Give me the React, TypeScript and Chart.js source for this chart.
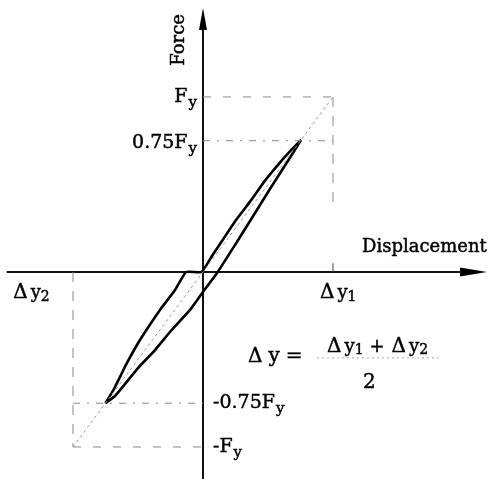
import { useEffect, useRef } from "react";
import { Chart, registerables } from "chart.js";
Chart.register(...registerables);

// normalised units: displacement / Δy1, force / Fy
const X_MIN = -1.5615;
const X_MAX = 2.2385;
const Y_MIN = -1.183;
const Y_MAX = 1.554;

const loadingX = [-0.75, -0.685, -0.631, -0.585, -0.485, -0.331, -0.215, -0.13, -0.01, 0.069, 0.146, 0.254, 0.362, 0.477, 0.592, 0.692, 0.755];
const loadingY = [-0.75, -0.669, -0.589, -0.52, -0.389, -0.217, -0.103, 0.0, 0.0, 0.091, 0.177, 0.297, 0.402, 0.522, 0.625, 0.707, 0.755];

const unloadingX = [0.755, 0.692, 0.515, 0.362, 0.246, 0.108, 0.0, -0.1, -0.254, -0.369, -0.485, -0.6, -0.677, -0.75];
const unloadingY = [0.755, 0.68, 0.474, 0.291, 0.154, -0.006, -0.114, -0.217, -0.343, -0.446, -0.537, -0.64, -0.709, -0.75];

const yieldDispPos = 1; // Δy1
const yieldDispNeg = -1; // Δy2
const yieldForce = 1; // Fy
const peakForce = 0.75; // 0.75Fy

const xAxisX = [-1.51, 2.0];
const yAxisY = [-1.19, 1.4];

const pts = (xs: number[], ys: number[]) => xs.map((x, i) => ({ x, y: ys[i] }));

type Part = { t: string; size: number; dy?: number; gap?: number };

const FONT = '"DejaVu Serif", "Liberation Serif", serif';

function drawRich(ctx: CanvasRenderingContext2D, parts: Part[], x: number, y: number, align: "left" | "right") {
  let total = 0;
  parts.forEach((p) => {
    ctx.font = `${p.size}px ${FONT}`;
    total += (p.gap || 0) + ctx.measureText(p.t).width;
  });
  let cx = align === "right" ? x - total : x;
  ctx.textAlign = "left";
  ctx.textBaseline = "alphabetic";
  parts.forEach((p) => {
    ctx.font = `${p.size}px ${FONT}`;
    cx += p.gap || 0;
    ctx.fillText(p.t, cx, y + (p.dy || 0));
    ctx.strokeText(p.t, cx, y + (p.dy || 0));
    cx += ctx.measureText(p.t).width;
  });
}

const labels: { x: number; y: number; align: "left" | "right"; parts: Part[] }[] = [
  { x: -0.046, y: 0.971, align: "right", parts: [{ t: "F", size: 19 }, { t: "y", size: 15, dy: 5, gap: 1 }] },
  { x: -0.046, y: 0.709, align: "right", parts: [{ t: "0.75F", size: 19 }, { t: "y", size: 15, dy: 5, gap: 1 }] },
  { x: 1.223, y: 0.114, align: "left", parts: [{ t: "Displacement", size: 18 }] },
  { x: -1.46, y: -0.149, align: "left", parts: [{ t: "Δ", size: 20 }, { t: "y", size: 18, gap: 3 }, { t: "2", size: 14, dy: 3 }] },
  { x: 0.9, y: -0.149, align: "left", parts: [{ t: "Δ", size: 20 }, { t: "y", size: 18, gap: 3 }, { t: "1", size: 14, dy: 3 }] },
  { x: 0.346, y: -0.514, align: "left", parts: [{ t: "Δ", size: 20 }, { t: "y", size: 20, gap: 6 }, { t: "=", size: 20, gap: 6 }] },
  {
    x: 0.954,
    y: -0.457,
    align: "left",
    parts: [
      { t: "Δ", size: 20 },
      { t: "y", size: 18, gap: 3 },
      { t: "1", size: 14, dy: 2 },
      { t: "+", size: 18, gap: 6 },
      { t: "Δ", size: 20, gap: 7 },
      { t: "y", size: 18, gap: 3 },
      { t: "2", size: 14, dy: 2 },
    ],
  },
  { x: 1.231, y: -0.663, align: "left", parts: [{ t: "2", size: 20 }] },
  { x: 0.077, y: -0.777, align: "left", parts: [{ t: "-0.75F", size: 19 }, { t: "y", size: 15, dy: 5, gap: 1 }] },
  { x: 0.077, y: -1.029, align: "left", parts: [{ t: "-F", size: 19 }, { t: "y", size: 15, dy: 5, gap: 1 }] },
];

const overlayPlugin = {
  id: "overlay",
  afterDatasetsDraw(chart: any) {
    const { ctx, scales } = chart;
    const sx = (v: number) => scales.x.getPixelForValue(v);
    const sy = (v: number) => scales.y.getPixelForValue(v);
    ctx.save();
    ctx.fillStyle = "#000";
    ctx.strokeStyle = "#000";
    ctx.lineWidth = 0.45;
    ctx.setLineDash([]);
    // arrow heads
    const ox = sx(0);
    ctx.beginPath();
    ctx.moveTo(ox, sy(1.509));
    ctx.lineTo(ox - 4, sy(1.383));
    ctx.lineTo(ox + 4, sy(1.383));
    ctx.closePath();
    ctx.fill();
    const oy = sy(0);
    ctx.beginPath();
    ctx.moveTo(sx(2.185), oy);
    ctx.lineTo(sx(1.977), oy - 4.5);
    ctx.lineTo(sx(1.977), oy + 4.5);
    ctx.closePath();
    ctx.fill();
    // Force label (rotated)
    ctx.save();
    ctx.translate(sx(-0.192) + 6, sy(1.326));
    ctx.rotate(-Math.PI / 2);
    ctx.font = `18px ${FONT}`;
    ctx.textAlign = "center";
    ctx.textBaseline = "alphabetic";
    ctx.fillText("Force", 0, 0);
    ctx.strokeText("Force", 0, 0);
    ctx.restore();
    labels.forEach((l) => drawRich(ctx, l.parts, sx(l.x), sy(l.y), l.align));
    ctx.restore();
  },
};

const line = (data: { x: number; y: number }[], color: string, width: number, dash: number[] = [], extra: any = {}) => ({
  data,
  showLine: true,
  borderColor: color,
  backgroundColor: color,
  borderWidth: width,
  borderDash: dash,
  pointRadius: 0,
  fill: false,
  ...extra,
});

export default function App() {
  const ref = useRef<HTMLCanvasElement>(null);
  useEffect(() => {
    if (!ref.current) return;
    const guide = "#888";
    const chart = new Chart(ref.current, {
      type: "scatter",
      data: {
        datasets: [
          // diagonal reference line
          line([{ x: yieldDispNeg, y: -yieldForce }, { x: yieldDispPos, y: yieldForce }], "#999", 1, [3, 3]),
          // Fy / Δy1 guides
          line([{ x: 0, y: yieldForce }, { x: yieldDispPos, y: yieldForce }], guide, 1, [8, 12]),
          line([{ x: yieldDispPos, y: yieldForce }, { x: yieldDispPos, y: 0.38 }], guide, 1, [10, 9]),
          line([{ x: yieldDispPos, y: 0 }, { x: yieldDispPos, y: 0.05 }], "#444", 1),
          line([{ x: 0, y: peakForce }, { x: yieldDispPos, y: peakForce }], guide, 1, [7, 7, 2, 7]),
          // negative side guides
          line([{ x: yieldDispNeg, y: -peakForce }, { x: 0, y: -peakForce }], guide, 1, [7, 7, 2, 7]),
          line([{ x: yieldDispNeg, y: -yieldForce }, { x: 0, y: -yieldForce }], guide, 1, [8, 12]),
          line([{ x: yieldDispNeg, y: 0 }, { x: yieldDispNeg, y: -yieldForce }], guide, 1, [10, 9]),
          // fraction bar
          line([{ x: 0.877, y: -0.491 }, { x: 1.838, y: -0.491 }], "#aaa", 1, [2, 3]),
          // hysteresis loop
          line(pts(loadingX, loadingY), "#000", 2.6, [], { tension: 0.12, borderJoinStyle: "round" }),
          line(pts(unloadingX, unloadingY), "#000", 2.6, [], { tension: 0.12, borderJoinStyle: "round" }),
          // axes
          line(pts(xAxisX, [0, 0]), "#111", 2),
          line(pts([0, 0], yAxisY), "#111", 2),
        ],
      },
      options: {
        responsive: false,
        animation: false,
        layout: { padding: 0 },
        plugins: { legend: { display: false }, tooltip: { enabled: false }, title: { display: false } },
        scales: {
          x: { type: "linear", min: X_MIN, max: X_MAX, display: false },
          y: { type: "linear", min: Y_MIN, max: Y_MAX, display: false },
        },
      },
      plugins: [overlayPlugin],
    });
    return () => chart.destroy();
  }, []);
  return (
    <div style={{ position: "fixed", left: 0, top: 0, width: 494, height: 479, background: "#fff" }}>
      <canvas ref={ref} width={494} height={479} />
    </div>
  );
}
